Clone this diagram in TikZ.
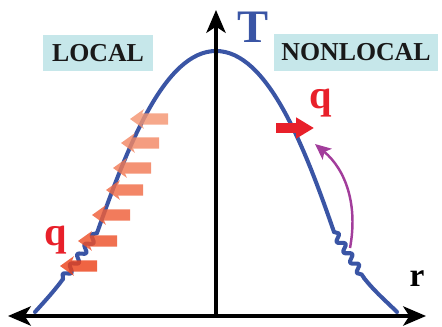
\documentclass[tikz,border=0pt]{standalone}
\usepackage{fontspec}
\setmainfont{Liberation Serif}
\usetikzlibrary{arrows.meta,decorations.pathmorphing}
\definecolor{curveblue}{HTML}{3A55A5}
\definecolor{qred}{HTML}{E8202A}
\definecolor{boxcyan}{HTML}{C6E7EA}
\definecolor{swirl}{HTML}{A23D9B}
\definecolor{qlight}{HTML}{F49572}
\definecolor{qdark}{HTML}{EC421A}

\begin{document}
\begin{tikzpicture}[x=0.02cm, y=-0.02cm, font=\bfseries,
    axistip/.tip={Stealth[length=13pt,width=11pt,inset=3.5pt]},
    axisline/.style={line width=2pt, black},
    profile/.style={line width=2.3pt, curveblue, line cap=round, line join=round},
    wiggle/.style={profile, decorate, decoration={snake, amplitude=1.9pt, segment length=7pt}},
    labbox/.style={fill=boxcyan, inner sep=0pt, text=black!90, font=\bfseries\fontsize{14.7}{15}\selectfont},
    heatarrow/.style={line width=6.3pt, -{Stealth[length=7.8pt,width=11pt,inset=2.2pt]}},
    qarrow/.style={line width=5.7pt, qred, -{Triangle[length=10.2pt,width=11.4pt]}},
    swarrow/.style={line width=1.4pt, swirl, -{Stealth[length=9pt,width=8pt,inset=2pt]}},
    qlabel/.style={text=qred, inner sep=0pt, font=\bfseries\fontsize{23}{23}\selectfont}]

    % frame
    \useasboundingbox (0,0) rectangle (442,327);

    % Labels in boxes
    \node[labbox, minimum width=62.6pt, minimum height=20.5pt] (local) at (98,53) {LOCAL};
    \node[labbox, minimum width=93.3pt, minimum height=21pt] (nonlocal) at (356,52.5) {NONLOCAL};

    % Temperature profile
    \draw[profile] (35,312) .. controls (45,301) and (55,290) .. (63,279);
    \draw[wiggle] (63,279) -- (97,233);
    \draw[profile] (97,233) .. controls (128,145) and (165,51) .. (216,51)
        .. controls (267,51) and (304,145) .. (334,232);
    \draw[wiggle] (334,232) -- (364,278);
    \draw[profile] (364,278) .. controls (375,292) and (387,302) .. (397,312);

    % Local heat flux arrows
    \foreach \y/\xh/\xt [count=\i] in {119/130/168, 143/121/159, 168/113/151,
        190/106/143, 215/92/130, 241/78/117, 266/60/97} {
        \pgfmathtruncatemacro\mixpc{100*(\i-1)/6}
        \coordinate (ht\i) at (\xt,\y);
        \coordinate (hh\i) at (\xh,\y);
        \begin{scope}[transparency group, opacity=0.82]
            \draw[heatarrow, draw=qdark!\mixpc!qlight] (ht\i) -- (hh\i);
        \end{scope}
    }

    % Nonlocal flux
    \coordinate (qa) at (276,128);
    \coordinate (qb) at (314,128);
    \draw[qarrow] (qa) -- (qb);

    \coordinate (sw1) at (350,248);
    \coordinate (sw2) at (315,144);
    \draw[swarrow] (sw1) .. controls (358,205) and (346,170) .. (sw2);

    % Axes
    \coordinate (O) at (216,316);
    \coordinate (rl) at (8,316);
    \coordinate (rr) at (426,316);
    \coordinate (Ttop) at (216,10);
    \draw[axisline, axistip-axistip] (rl) -- (rr);
    \draw[axisline, -axistip] (O) -- (Ttop);

    % Symbols
    \node[text=curveblue, inner sep=0pt, font=\bfseries\fontsize{26.5}{27}\selectfont] (Tlab) at (253.5,27.5) {T};
    \node[inner sep=0pt, font=\bfseries\fontsize{19}{19}\selectfont] (rlab) at (417,279) {r};
    \node[qlabel] (qright) at (321,103) {q};
    \node[qlabel] (qleft) at (56,240) {q};
\end{tikzpicture}
\end{document}
